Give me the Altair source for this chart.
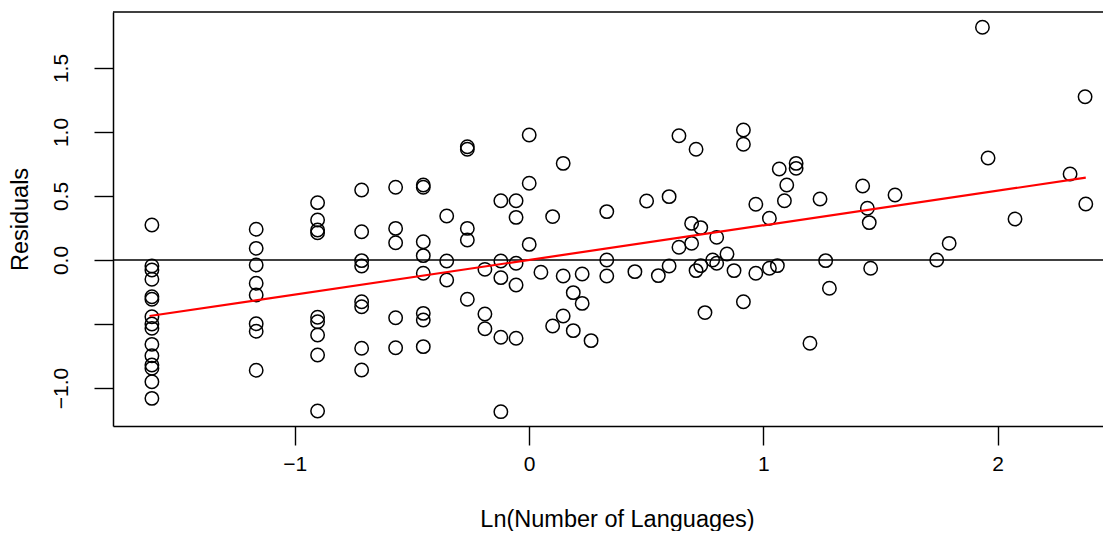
import altair as alt
import pandas as pd

# Ln(Number of Languages) for each point
ln_languages = [
    -1.609, -1.609, -1.609, -1.609, -1.609, -1.609, -1.609, -1.609, -1.609, -1.609,
    -1.609, -1.609, -1.609, -1.609, -1.609,
    -1.164, -1.164, -1.164, -1.164, -1.164, -1.164, -1.164, -1.164,
    -0.902, -0.902, -0.902, -0.902, -0.902, -0.902, -0.902, -0.902, -0.902,
    -0.714, -0.714, -0.714, -0.714, -0.714, -0.714, -0.714, -0.714,
    -0.569, -0.569, -0.569, -0.569, -0.569,
    -0.451, -0.451, -0.451, -0.451, -0.451, -0.451, -0.451, -0.451,
    -0.351, -0.351, -0.351,
    -0.263, -0.263, -0.263, -0.263, -0.263,
    -0.188, -0.188, -0.188,
    -0.120, -0.120, -0.120, -0.120, -0.120,
    -0.055, -0.055, -0.055, -0.055, -0.055,
    0.001, 0.001, 0.001,
    0.051,
    0.101, 0.101,
    0.146, 0.146, 0.146,
    0.189, 0.189,
    0.227, 0.227,
    0.265,
    0.332, 0.332, 0.332,
    0.452, 0.502, 0.552,
    0.598, 0.598,
    0.640, 0.640,
    0.694, 0.694,
    0.713, 0.713,
    0.733, 0.733,
    0.751, 0.784,
    0.801, 0.801,
    0.845, 0.875,
    0.915, 0.915, 0.915,
    0.968, 0.968,
    1.026, 1.026,
    1.060, 1.068, 1.090, 1.100,
    1.140, 1.140,
    1.199, 1.242, 1.266, 1.282,
    1.424, 1.444, 1.452, 1.458,
    1.562, 1.740, 1.793, 1.935, 1.959, 2.074, 2.309, 2.373, 2.376,
]

residuals = [
    0.273, -0.047, -0.078, -0.151, -0.287, -0.307, -0.443, -0.500, -0.534, -0.659,
    -0.748, -0.820, -0.846, -0.951, -1.081,
    0.240, 0.091, -0.039, -0.182, -0.273, -0.498, -0.557, -0.862,
    0.448, 0.3125, 0.234, 0.213, -0.448, -0.482, -0.586, -0.742, -1.180,
    0.547, 0.221, -0.005, -0.047, -0.326, -0.365, -0.690, -0.859,
    0.568, 0.247, 0.135, -0.451, -0.685,
    0.586, 0.568, 0.143, 0.034, -0.104, -0.417, -0.469, -0.677,
    0.344, -0.008, -0.156,
    0.885, 0.865, 0.247, 0.156, -0.307,
    -0.073, -0.422, -0.537,
    0.463, -0.008, -0.138, -0.604, -1.185,
    0.463, 0.333, -0.026, -0.195, -0.612,
    0.977, 0.599, 0.122,
    -0.096,
    0.339, -0.516,
    0.755, -0.125, -0.4375,
    -0.255, -0.552,
    -0.109, -0.339,
    -0.630,
    0.378, 0.0, -0.125,
    -0.091, 0.461, -0.122,
    0.495, -0.047,
    0.971, 0.099,
    0.286, 0.130,
    0.865, -0.083,
    0.253, -0.044,
    -0.411, 0.0,
    0.177, -0.026,
    0.047, -0.083,
    1.016, 0.904, -0.326,
    0.435, -0.104,
    0.326, -0.065,
    -0.044, 0.711, 0.463, 0.586,
    0.755, 0.716,
    -0.651, 0.477, -0.005, -0.221,
    0.578, 0.404, 0.292, -0.065,
    0.508, 0.0, 0.130, 1.818, 0.797, 0.320, 0.672, 1.276, 0.4375,
]

# fitted line end points
fit_x = [-1.619, 2.376]
fit_y = [-0.4375, 0.643]

hline_y = [0.0]

x_ticks = [-1, 0, 1, 2]
y_ticks = [-1.0, -0.5, 0.0, 0.5, 1.0, 1.5]

pts = pd.DataFrame({"x": ln_languages, "y": residuals})
fit = pd.DataFrame({"x": fit_x, "y": fit_y})
hl = pd.DataFrame({"h": hline_y})

FONT = "Liberation Sans"
LABEL_SIZE = 21
TITLE_SIZE = 23.5
W, H = 990, 414
xdom = [-1.775, -1.775 + W / 234.35]
ydom = [-1.297, 1.9375]

xscale = alt.Scale(domain=xdom, nice=False, zero=False)
yscale = alt.Scale(domain=ydom, nice=False, zero=False)

xaxis = alt.Axis(
    values=x_ticks, format="d", grid=False,
    domainColor="black", domainWidth=1.5,
    tickColor="black", tickWidth=1.4, tickSize=19,
    labelFont=FONT, labelFontSize=LABEL_SIZE, labelColor="black",
    labelPadding=8, labelFlush=False,
    title="Ln(Number of Languages)",
    titleFont=FONT, titleFontSize=TITLE_SIZE, titleFontWeight="normal", titleColor="black",
    titleX=504, titleY=100, titleBaseline="alphabetic", titleAlign="center",
)
yaxis = alt.Axis(
    values=y_ticks, grid=False,
    labelExpr="datum.value == -0.5 ? '' : format(datum.value, '.1f')",
    domainColor="black", domainWidth=1.5,
    tickColor="black", tickWidth=1.4, tickSize=19,
    labelFont=FONT, labelFontSize=LABEL_SIZE, labelColor="black",
    labelAngle=-90, labelAlign="center", labelBaseline="alphabetic",
    labelPadding=27, labelFlush=False,
    title="Residuals",
    titleFont=FONT, titleFontSize=TITLE_SIZE, titleFontWeight="normal", titleColor="black",
    titleAngle=-90, titleX=-86, titleY=207, titleBaseline="alphabetic", titleAlign="center",
)

points = alt.Chart(pts).mark_point(
    shape="circle", filled=False, color="black", size=180, strokeWidth=1.5, opacity=1
).encode(
    x=alt.X("x:Q", scale=xscale, axis=xaxis),
    y=alt.Y("y:Q", scale=yscale, axis=yaxis),
)

zero_line = alt.Chart(hl).mark_rule(color="black", strokeWidth=1.5).encode(
    y=alt.Y("h:Q", scale=yscale)
)

fit_line = alt.Chart(fit).mark_line(color="#ff0000", strokeWidth=2.2).encode(
    x=alt.X("x:Q", scale=xscale),
    y=alt.Y("y:Q", scale=yscale),
)

top_border = alt.Chart(hl).mark_rule(color="black", strokeWidth=1.5).encode(
    x=alt.value(0), x2=alt.value(W), y=alt.value(0)
)

chart = alt.layer(points, zero_line, fit_line, top_border).properties(
    width=W, height=H,
    padding={"left": 105, "top": 4, "right": 0, "bottom": 105},
    autosize=alt.AutoSizeParams(type="none"),
    background="white",
).configure_view(stroke=None)

chart.save("out.html", embed_options={"renderer": "svg", "actions": False})
